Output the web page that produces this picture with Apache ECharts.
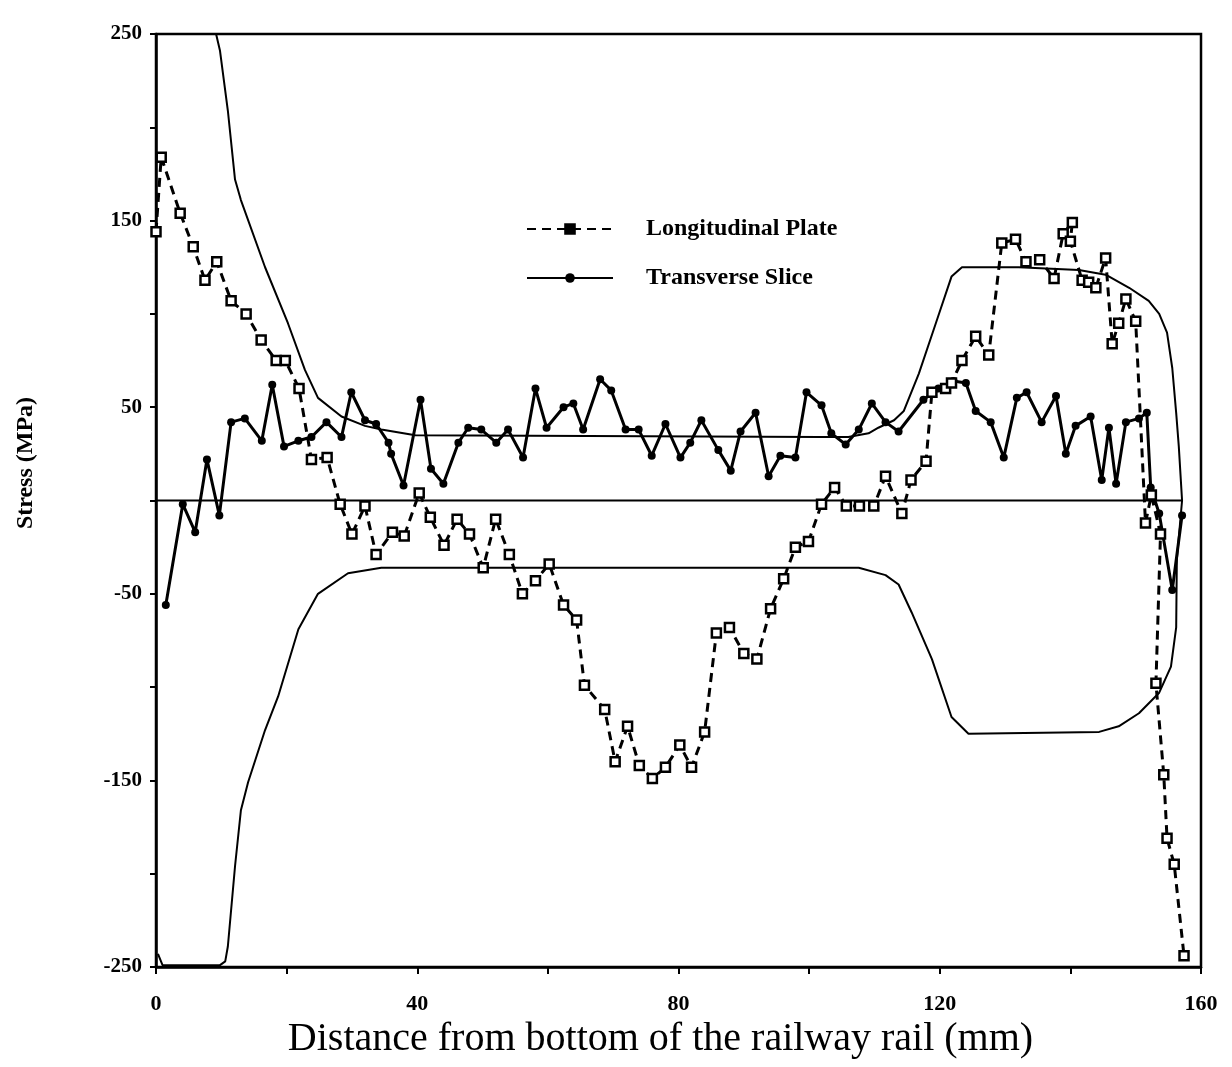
<!DOCTYPE html>
<html>
<head>
<meta charset="utf-8">
<script src="https://cdn.jsdelivr.net/npm/echarts@6/dist/echarts.min.js"></script>
<style>html,body{margin:0;padding:0;background:#fff;}#chart{width:1232px;height:1067px;}</style>
</head>
<body>
<div id="chart"></div>
<script>
// ---- Data ----
const longX = [0.0,0.8,3.7,5.7,7.5,9.3,11.5,13.8,16.1,18.4,19.8,21.9,23.8,26.2,28.2,30.0,32.0,33.7,36.2,38.0,40.3,42.0,44.1,46.1,48.0,50.1,52.0,54.1,56.1,58.1,60.2,62.4,64.4,65.6,68.7,70.3,72.2,74.0,76.0,78.0,80.2,82.0,84.0,85.8,87.8,90.0,92.0,94.1,96.1,97.9,99.9,101.9,103.9,105.7,107.7,109.9,111.7,114.2,115.6,117.9,118.8,120.9,121.8,123.4,125.5,127.5,129.5,131.6,133.2,135.3,137.5,138.9,140.3,140.0,141.8,142.8,143.9,145.4,146.4,147.4,148.5,150.0,151.5,152.4,153.8,153.1,154.3,154.8,155.9,157.4];
const longY = [144,184,154,136,118,128,107,100,86,75,75,60,22,23,-2,-18,-3,-29,-17,-19,4,-9,-24,-10,-18,-36,-10,-29,-50,-43,-34,-56,-64,-99,-112,-140,-121,-142,-149,-143,-131,-143,-124,-71,-68,-82,-85,-58,-42,-25,-22,-2,7,-3,-3,-3,13,-7,11,21,58,60,63,75,88,78,138,140,128,129,119,143,149,139,118,117,114,130,84,95,108,96,-12,3,-18,-98,-147,-181,-195,-244];

const transX = [1.5,4.1,6.0,7.8,9.7,11.5,13.6,16.2,17.8,19.6,21.8,23.8,26.1,28.4,29.9,32.0,33.7,35.6,36.0,37.9,40.5,42.1,44.0,46.3,47.8,49.8,52.1,53.9,56.2,58.1,59.8,62.4,63.9,65.4,68.0,69.7,71.9,73.9,75.9,78.0,80.3,81.8,83.5,86.1,88.0,89.5,91.8,93.8,95.6,97.9,99.6,101.9,103.4,105.6,107.6,109.6,111.7,113.7,117.5,119.8,122.1,124.0,125.5,127.8,129.8,131.8,133.3,135.6,137.8,139.3,140.8,143.1,144.8,145.9,147.0,148.5,150.5,151.7,152.3,153.6,155.6,157.1];
const transY = [-56,-2,-17,22,-8,42,44,32,62,29,32,34,42,34,58,43,41,31,25,8,54,17,9,31,39,38,31,38,23,60,39,50,52,38,65,59,38,38,24,41,23,31,43,27,16,37,47,13,24,23,58,51,36,30,38,52,42,37,54,60,64,63,48,42,23,55,58,42,56,25,40,45,11,39,9,42,44,47,7,-7,-48,-8];

// envelope (closed outline), traced clockwise from top-left
const envX = [0,9.2,9.8,11.0,12.1,13.0,16.7,20.2,22.8,24.8,28.4,32.0,34.5,39.7,101.5,106.0,109.1,110.6,113.0,114.5,116.8,119.4,121.8,123.4,132.1,141.3,145.4,149.0,152.0,153.6,154.8,155.6,156.2,156.6,157.1,156.3,156.2,155.4,153.6,150.5,147.4,144.4,124.4,121.8,118.8,115.7,113.7,111.7,107.6,34.5,29.4,24.8,21.8,18.7,16.7,14.1,13.0,12.1,11.0,10.6,9.8,1.0,0.3];
const envY = [250,250,241,209,172,161,125,95,70,55,45,40,38,35,34,34,36,39,43,48,68,95,120,125,125,123.5,121,114,107,100,90,71,47,29,0,-32,-68,-89,-103,-114,-121,-124,-125,-116,-85,-60,-45,-40,-36,-36,-39,-50,-69,-105,-123,-151,-166,-196,-239,-247,-249,-249,-243];

const zeroX = [0, 157.1];
const zeroY = [0, 0];

const xTicks = [0, 40, 80, 120, 160];
const yTicks = [-250, -150, -50, 50, 150, 250];

const pairs = (xs, ys) => xs.map((x, i) => [x, ys[i]]);
const serif = 'Liberation Serif';

const chart = echarts.init(document.getElementById('chart'));
chart.setOption({
  animation: false,
  backgroundColor: '#fff',
  grid: { left: 156, right: 31, top: 34, bottom: 100, containLabel: false, outerBoundsMode: 'none',
    show: true, borderColor: '#000', borderWidth: 2.5, backgroundColor: 'transparent' },
  legend: {
    data: ['Longitudinal Plate', 'Transverse Slice'],
    orient: 'vertical', left: 521, top: 212, itemWidth: 86, itemHeight: 12, itemGap: 25,
    itemStyle: { color: '#000', borderColor: '#000' },
    textStyle: { fontFamily: serif, fontSize: 24, fontWeight: 'bold', color: '#000', padding: [0, 0, 0, 28] }
  },
  xAxis: {
    type: 'value', min: 0, max: 160, interval: 20,
    name: 'Distance from bottom of the railway rail (mm)', nameLocation: 'middle', nameGap: 52,
    nameTextStyle: { fontFamily: serif, fontSize: 40, color: '#000', padding: [0, 36, 0, 0] },
    axisLine: { show: true, onZero: false, lineStyle: { color: '#000', width: 2.5 } },
    axisTick: { show: true, length: 7, lineStyle: { color: '#000', width: 2 } },
    axisLabel: { margin: 26, fontFamily: serif, fontSize: 22, fontWeight: 'bold', color: '#000',
      formatter: v => xTicks.includes(v) ? String(v) : '' },
    splitLine: { show: false }
  },
  yAxis: {
    type: 'value', min: -250, max: 250, interval: 50,
    name: 'Stress (MPa)', nameLocation: 'middle', nameGap: 118, nameRotate: 90,
    nameTextStyle: { fontFamily: serif, fontSize: 24, fontWeight: 'bold', color: '#000', padding: [0, 0, 0, 75] },
    axisLine: { show: true, onZero: false, lineStyle: { color: '#000', width: 2.5 } },
    axisTick: { show: true, length: 6, lineStyle: { color: '#000', width: 2 } },
    axisLabel: { margin: 14, fontFamily: serif, fontSize: 21, fontWeight: 'bold', color: '#000',
      formatter: v => yTicks.includes(v) ? String(v) : '' },
    splitLine: { show: false }
  },
  series: [
    { name: 'envelope', type: 'line', data: pairs(envX, envY), symbol: 'none', silent: true,
      lineStyle: { color: '#000', width: 2 }, z: 1 },
    { name: 'zero', type: 'line', data: pairs(zeroX, zeroY), symbol: 'none', silent: true,
      lineStyle: { color: '#000', width: 2 }, z: 1 },
    { name: 'Longitudinal Plate', type: 'line', data: pairs(longX, longY),
      symbol: 'rect', symbolSize: 9,
      itemStyle: { color: '#fff', borderColor: '#000', borderWidth: 2.5 },
      lineStyle: { color: '#000', width: 3, type: [9, 6] }, z: 3 },
    { name: 'Transverse Slice', type: 'line', data: pairs(transX, transY),
      symbol: 'circle', symbolSize: 8,
      itemStyle: { color: '#000' },
      lineStyle: { color: '#000', width: 3 }, z: 2 }
  ]
});
</script>
</body>
</html>
